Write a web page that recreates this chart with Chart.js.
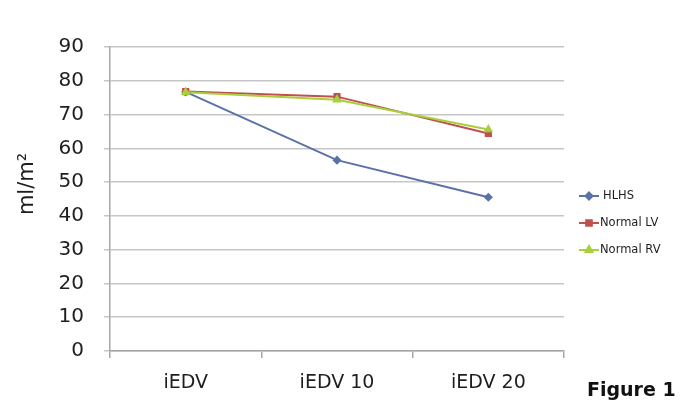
<!DOCTYPE html>
<html>
<head>
<meta charset="utf-8">
<script src="https://cdn.jsdelivr.net/npm/chart.js@4/dist/chart.umd.min.js"></script>
<style>
  html, body { margin: 0; padding: 0; background: #fff; }
  #wrap { position: relative; width: 685px; height: 417px; }
</style>
</head>
<body>
<div id="wrap"><canvas id="volChart" width="685" height="417"></canvas></div>
<script>
'use strict';

// --- data ---
const categories = ['iEDV', 'iEDV 10', 'iEDV 20'];
const seriesNames = ['HLHS', 'Normal LV', 'Normal RV'];
const hlhs = [76.7, 56.5, 45.5];
const normalLV = [76.8, 75.3, 64.4];
const normalRV = [76.6, 74.4, 65.6];
const yTicks = [0, 10, 20, 30, 40, 50, 60, 70, 80, 90];
const yTitle = 'ml/m²';

const FONT = '"DejaVu Sans", sans-serif';
const colors = ['#5a72a6', '#c0504d', '#a8d03c'];
const markers = ['rectRot', 'rect', 'triangle'];

function mkSet(i, values, order) {
  return {
    label: seriesNames[i],
    data: values,
    borderColor: colors[i],
    backgroundColor: colors[i],
    borderWidth: 2,
    pointStyle: markers[i],
    pointRadius: i === 0 ? 3.5 : 4,
    pointBorderWidth: 1.5,
    pointBackgroundColor: colors[i],
    pointBorderColor: colors[i],
    tension: 0,
    order
  };
}

// legend, axis title and "Figure 1" drawn on the canvas, Excel-style
const sideLegend = {
  id: 'sideLegend',
  afterDraw(chart) {
    const ctx = chart.ctx;
    const rows = [196, 223, 250];
    ctx.save();
    chart.data.datasets.forEach((ds, i) => {
      const y = rows[i];
      ctx.strokeStyle = ds.borderColor;
      ctx.lineWidth = 2;
      ctx.beginPath();
      ctx.moveTo(579, y);
      ctx.lineTo(599, y);
      ctx.stroke();
      Chart.helpers.drawPoint(ctx, {
        pointStyle: ds.pointStyle, radius: ds.pointRadius, borderWidth: 1.5
      }, 589, y);
      ctx.fillStyle = ds.pointBackgroundColor;
      ctx.fill();
      ctx.fillStyle = '#1e1e1e';
      ctx.font = '11.5px ' + FONT;
      ctx.textBaseline = 'middle';
      ctx.textAlign = 'left';
      ctx.fillText(ds.label, i === 0 ? 603 : 600, y);
    });

    ctx.font = 'bold 19px ' + FONT;
    ctx.fillStyle = '#111';
    ctx.textBaseline = 'middle';
    ctx.fillText('Figure 1', 587, 391);

    // rotated y title, sits a bit above the plot centre like the original
    ctx.translate(28, 184);
    ctx.rotate(-Math.PI / 2);
    ctx.textAlign = 'center';
    ctx.font = '21px ' + FONT;
    ctx.fillStyle = '#1e1e1e';
    ctx.fillText(yTitle, 0, 0);
    ctx.restore();
  }
};

new Chart(document.getElementById('volChart'), {
  type: 'line',
  data: {
    labels: categories,
    datasets: [mkSet(0, hlhs, 3), mkSet(1, normalLV, 2), mkSet(2, normalRV, 1)]
  },
  options: {
    responsive: false,
    animation: false,
    layout: { padding: { top: 47, right: 121, bottom: 0, left: 0 } },
    plugins: { legend: { display: false }, tooltip: { enabled: false } },
    scales: {
      x: {
        type: 'category',
        offset: true,
        afterFit: s => { s.height = 66; },
        grid: { offset: true, drawOnChartArea: false, drawTicks: true, tickLength: 7, color: '#a8a8a8', lineWidth: 1.5 },
        border: { color: '#a8a8a8', width: 1.5 },
        ticks: { color: '#1e1e1e', font: { family: FONT, size: 19 }, padding: 14, maxRotation: 0 }
      },
      y: {
        min: 0,
        max: 90,
        afterFit: s => { s.width = 110; },
        afterBuildTicks: s => { s.ticks = yTicks.map(v => ({ value: v })); },
        grid: { color: '#c6c6c6', lineWidth: 1.5, tickLength: 6 },
        border: { color: '#a8a8a8', width: 1.5 },
        ticks: { color: '#1e1e1e', font: { family: FONT, size: 20 }, padding: 20 }
      }
    }
  },
  plugins: [sideLegend]
});
</script>
</body>
</html>
